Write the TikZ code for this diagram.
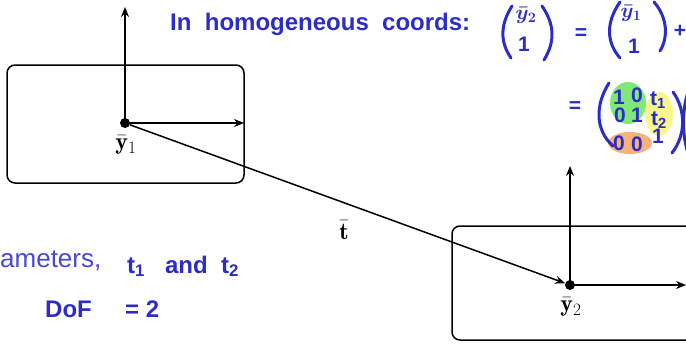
\documentclass[tikz,border=0pt]{standalone}
\usepackage{amsmath}
\usepackage{fontspec}
\usetikzlibrary{arrows.meta}
\newfontfamily\handfont{Liberation Sans}
\newfontfamily\typedfont{Liberation Sans}
\definecolor{hand}{RGB}{44,44,200}
\definecolor{typed}{RGB}{72,72,212}
\definecolor{hlgreen}{RGB}{128,232,120}
\definecolor{hlyellow}{RGB}{248,246,140}
\definecolor{hlorange}{RGB}{246,178,122}
\tikzset{
  frame/.style={draw, line width=1.5pt, rounded corners=8pt},
  axis/.style={line width=1.5pt, -{Stealth[length=10pt,width=8pt]}},
  origin/.style={circle, fill, inner sep=0pt, minimum size=10pt},
  lbl/.style={font=\fontsize{24}{28}\selectfont, inner sep=0pt},
  hw/.style={text=hand, font=\handfont\bfseries\fontsize{24}{28}\selectfont, inner sep=0pt},
  hwd/.style={text=hand, font=\handfont\bfseries\fontsize{21}{24}\selectfont, inner sep=0pt},
  hwm/.style={text=hand, font=\boldmath\fontsize{21}{24}\selectfont, inner sep=0pt},
  paren/.style={draw=hand, line width=3pt, line cap=round},
}
\begin{document}
\begin{tikzpicture}[x=1pt,y=-1pt]
\useasboundingbox (0,0) rectangle (686,346);
% boxes
\draw[frame] (7,65) rectangle (244,183);
\draw[frame] (452,226) rectangle (700,340);
% origins
\node[origin] (p1) at (125,123) {};
\node[origin] (p2) at (570,285) {};
\coordinate (u1) at (125,7);
\coordinate (r1) at (244,123);
\coordinate (u2) at (570,166);
\coordinate (r2) at (686,285);
\draw[axis] (p1.center) -- (u1);
\draw[axis] (p1.center) -- (r1);
\draw[axis] (p2.center) -- (u2);
\draw[axis] (p2.center) -- (r2);
\draw[axis] (p1) -- (p2);
\node[lbl] (l1) at (126,145) {$\bar{\mathbf{y}}_1$};
\node[lbl] (l2) at (571,307) {$\bar{\mathbf{y}}_2$};
\node[lbl] (lt) at (344,230) {$\bar{\mathbf{t}}$};
% handwriting line 1
\node[hw, anchor=west] (h1) at (170,24) {In\ \ homogeneous\ \ coords:};
\draw[paren] (512,6) .. controls (500,25) and (500,42) .. (511,58);
\node[hwm] (a1) at (526,15) {$\bar{y}_2$};
\node[hwd] (a2) at (524,44) {1};
\draw[paren] (542,6) .. controls (555,25) and (555,42) .. (544,60);
\node[hwd] (eq1) at (581,34) {=};
\draw[paren] (620,2) .. controls (606,22) and (606,42) .. (620,58);
\node[hwm] (b1) at (631,13) {$\bar{y}_1$};
\node[hwd] (b2) at (634,46) {1};
\draw[paren] (654,2) .. controls (668,18) and (668,38) .. (660,51);
\node[hwd] (pl) at (680,31) {+};
% handwriting line 2 with highlights
\fill[hlgreen] (628,103) ellipse [x radius=18, y radius=21];
\fill[hlyellow] (659,114) ellipse [x radius=14, y radius=22];
\fill[hlorange] (630,143) ellipse [x radius=22, y radius=11];
\node[hwd] (eq2) at (575,107) {=};
\draw[paren] (609,83) .. controls (595,105) and (595,130) .. (613,146);
\node[hwd] (m11) at (619,97) {1};
\node[hwd] (m12) at (637,95) {0};
\node[hwd] (m21) at (620,115) {0};
\node[hwd] (m22) at (637,115) {1};
\node[hwd] (m13) at (658,100) {t\textsubscript{1}};
\node[hwd] (m23) at (659,120) {t\textsubscript{2}};
\node[hwd] (m31) at (619,143) {0};
\node[hwd] (m32) at (637,144) {0};
\node[hwd] (m33) at (658,136) {1};
\draw[paren] (673,92) .. controls (686,110) and (686,135) .. (672,153);
\draw[paren] (688,92) .. controls (682,110) and (682,135) .. (688,153);
% bottom left text
\node[text=typed, font=\typedfont\fontsize{26}{30}\selectfont, inner sep=0pt, anchor=base west] (am) at (0,267) {ameters,};
\node[hw, anchor=base west] (tt) at (127,273) {t\textsubscript{1}\ \ \ and\ \ t\textsubscript{2}};
\node[hw, anchor=base west] (dof) at (45,317) {DoF\ \ \ \ \ = 2};
\end{tikzpicture}
\end{document}
